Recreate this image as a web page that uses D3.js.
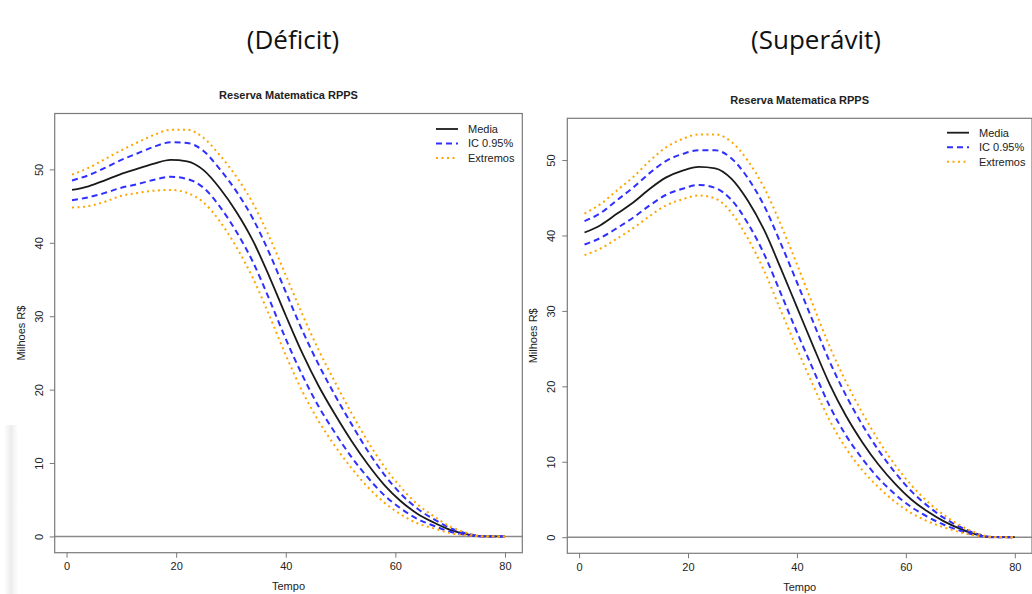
<!DOCTYPE html>
<html>
<head>
<meta charset="utf-8">
<script src="https://cdn.jsdelivr.net/npm/d3@7"></script>
<style>
body { margin: 0; background: #fff; }
svg { display: block; font-family: "Liberation Sans", Arial, sans-serif; }
</style>
</head>
<body>
<div id="chart"></div>
<script>
// time axis shared by both panels (read at these points)
const tempo = [1, 4, 7, 10, 13, 16, 19, 22, 25, 28, 31, 34, 37, 40, 43, 46, 49, 52, 55, 58, 61, 64, 67, 70, 73, 76, 80];

// Deficit panel
const deficitMedia  = [47.2, 47.7, 48.5, 49.4, 50.1, 50.8, 51.3, 51.1, 49.9, 47.4, 44.2, 40.3, 35.4, 30.1, 25.0, 20.5, 16.6, 13.0, 9.8, 7.0, 4.8, 3.1, 1.9, 0.9, 0.3, 0, 0];
const deficitIcUp   = [48.5, 49.2, 50.2, 51.3, 52.2, 53.1, 53.7, 53.6, 52.5, 50.0, 47.0, 43.3, 38.6, 33.3, 28.1, 23.4, 19.2, 15.3, 11.6, 8.4, 5.8, 3.8, 2.35, 1.15, 0.4, 0.02, 0];
const deficitIcLow  = [45.8, 46.2, 46.8, 47.5, 48.0, 48.6, 49.0, 48.7, 47.5, 44.9, 41.5, 37.4, 32.3, 26.9, 22.0, 17.7, 14.1, 10.8, 8.0, 5.6, 3.8, 2.4, 1.45, 0.65, 0.2, 0, 0];
const deficitExtUp  = [49.3, 50.2, 51.4, 52.6, 53.7, 54.7, 55.4, 55.4, 54.3, 51.9, 49.0, 45.4, 40.8, 35.6, 30.3, 25.4, 21.0, 16.8, 12.9, 9.5, 6.7, 4.4, 2.75, 1.35, 0.5, 0.03, 0];
const deficitExtLow = [44.8, 45.0, 45.6, 46.4, 46.8, 47.1, 47.2, 46.8, 45.5, 42.9, 39.4, 35.2, 30.1, 24.7, 19.8, 15.7, 12.3, 9.3, 6.7, 4.6, 3.0, 1.8, 1.1, 0.45, 0.15, 0, 0];

// Superavit panel
const superMedia  = [40.4, 41.4, 42.9, 44.4, 46.2, 47.7, 48.6, 49.1, 48.9, 47.5, 44.6, 40.7, 35.7, 30.5, 25.3, 20.3, 16.1, 12.6, 9.6, 7.1, 5.0, 3.4, 2.1, 1.1, 0.35, 0, 0];
const superIcUp   = [41.9, 43.0, 44.7, 46.4, 48.3, 49.9, 50.8, 51.3, 51.3, 50.2, 47.6, 43.9, 39.0, 33.8, 28.5, 23.3, 18.8, 14.9, 11.5, 8.6, 6.1, 4.15, 2.55, 1.35, 0.45, 0.02, 0];
const superIcLow  = [38.8, 39.7, 41.0, 42.4, 44.0, 45.4, 46.2, 46.7, 46.3, 44.7, 41.6, 37.5, 32.4, 27.2, 22.2, 17.4, 13.5, 10.4, 7.8, 5.7, 4.0, 2.7, 1.65, 0.85, 0.25, 0, 0];
const superExtUp  = [42.9, 44.2, 46.0, 47.8, 49.9, 51.7, 52.8, 53.4, 53.4, 52.4, 49.9, 46.3, 41.5, 36.2, 30.7, 25.3, 20.6, 16.5, 12.8, 9.6, 6.9, 4.7, 2.95, 1.55, 0.55, 0.03, 0];
const superExtLow = [37.4, 38.3, 39.6, 41.0, 42.6, 44.0, 44.8, 45.3, 44.9, 43.0, 39.6, 35.3, 30.1, 25.0, 20.1, 15.5, 11.8, 8.9, 6.6, 4.7, 3.2, 2.1, 1.3, 0.65, 0.2, 0, 0];

const xTicks = [0, 20, 40, 60, 80];
const yTicks = [0, 10, 20, 30, 40, 50];
const legendLabels = ["Media", "IC 0.95%", "Extremos"];

const width = 1032, height = 594;

const svg = d3.select("#chart").append("svg")
    .attr("width", width)
    .attr("height", height);

// faint shadow strip on the left edge of the original screenshot
const grad = svg.append("defs").append("linearGradient")
    .attr("id", "edge").attr("x1", "0").attr("x2", "1");
grad.append("stop").attr("offset", "0").attr("stop-color", "#ffffff");
grad.append("stop").attr("offset", "0.5").attr("stop-color", "#ececec");
grad.append("stop").attr("offset", "1").attr("stop-color", "#ffffff");
svg.append("rect").attr("x", 4).attr("y", 425).attr("width", 14).attr("height", 169)
    .attr("fill", "url(#edge)");

const styles = [
    { color: "#1a1a1a", width: 1.8, dash: null },
    { color: "#2f2fff", width: 2, dash: "6,4" },
    { color: "#ffa500", width: 2, dash: "2,3.5" }
];

const panels = [
    {
        header: "(Déficit)", headerX: 293,
        left: 54.7, right: 522.3, top: 113.5, bottom: 552.7,
        legendX: 436, legendY: 129,
        media: deficitMedia, icUp: deficitIcUp, icLow: deficitIcLow,
        extUp: deficitExtUp, extLow: deficitExtLow
    },
    {
        header: "(Superávit)", headerX: 816,
        left: 567.3, right: 1032, top: 118.3, bottom: 553.3,
        legendX: 947, legendY: 132.7,
        media: superMedia, icUp: superIcUp, icLow: superIcLow,
        extUp: superExtUp, extLow: superExtLow
    }
];

panels.forEach(p => {
    const all = [].concat(p.media, p.icUp, p.icLow, p.extUp, p.extLow);
    const yMin = d3.min(all), yMax = d3.max(all);
    const xMin = d3.min(tempo), xMax = d3.max(tempo);
    const xPad = (xMax - xMin) * 0.04, yPad = (yMax - yMin) * 0.04;

    const x = d3.scaleLinear().domain([xMin - xPad, xMax + xPad]).range([p.left, p.right]);
    const y = d3.scaleLinear().domain([yMin - yPad, yMax + yPad]).range([p.bottom, p.top]);

    // big header
    svg.append("text")
        .attr("x", p.headerX).attr("y", 49)
        .attr("text-anchor", "middle")
        .style("font-family", "'Open Sans', 'Noto Sans', sans-serif")
        .style("font-size", "26px")
        .attr("fill", "#111")
        .text(p.header);

    // plot title
    svg.append("text")
        .attr("x", (p.left + p.right) / 2).attr("y", p.top - 14.5)
        .attr("text-anchor", "middle")
        .style("font-size", "11px").style("font-weight", "bold")
        .attr("fill", "#222")
        .text("Reserva Matematica RPPS");

    // zero line
    svg.append("line")
        .attr("x1", p.left).attr("x2", p.right)
        .attr("y1", y(0)).attr("y2", y(0))
        .attr("stroke", "#8a8a8a").attr("stroke-width", 1.5);

    const line = d3.line()
        .x((d, i) => x(tempo[i]))
        .y(d => y(d))
        .curve(d3.curveMonotoneX);

    const series = [p.media, p.icUp, p.icLow, p.extUp, p.extLow];
    const seriesStyle = [styles[0], styles[1], styles[1], styles[2], styles[2]];
    series.forEach((s, k) => {
        svg.append("path")
            .datum(s)
            .attr("d", line)
            .attr("fill", "none")
            .attr("stroke", seriesStyle[k].color)
            .attr("stroke-width", seriesStyle[k].width)
            .attr("stroke-dasharray", seriesStyle[k].dash);
    });

    // box
    svg.append("rect")
        .attr("x", p.left).attr("y", p.top)
        .attr("width", p.right - p.left).attr("height", p.bottom - p.top)
        .attr("fill", "none").attr("stroke", "#7a7a7a").attr("stroke-width", 1.2);

    // axes
    const xAxis = svg.append("g")
        .attr("transform", "translate(0," + p.bottom + ")")
        .call(d3.axisBottom(x).tickValues(xTicks).tickSize(5).tickPadding(5));
    const yAxis = svg.append("g")
        .attr("transform", "translate(" + p.left + ",0)")
        .call(d3.axisLeft(y).tickValues(yTicks).tickSize(5));

    [xAxis, yAxis].forEach(a => {
        a.select(".domain").remove();
        a.selectAll("line").attr("stroke", "#7a7a7a");
        a.selectAll("text").attr("fill", "#222").style("font-size", "11px").style("font-family", "'Liberation Sans', Arial, sans-serif");
    });
    yAxis.selectAll("text")
        .attr("x", 0).attr("dy", 0)
        .attr("text-anchor", "middle")
        .attr("transform", "translate(-12,0) rotate(-90)");

    // axis titles
    svg.append("text")
        .attr("x", (p.left + p.right) / 2).attr("y", p.bottom + 37.5)
        .attr("text-anchor", "middle")
        .style("font-size", "11px").attr("fill", "#222")
        .text("Tempo");
    svg.append("text")
        .attr("transform", "translate(" + (p.left - 30) + "," + ((p.top + p.bottom) / 2) + ") rotate(-90)")
        .attr("text-anchor", "middle")
        .style("font-size", "11px").attr("fill", "#222")
        .text("Milhoes R$");

    // legend
    const lg = svg.append("g");
    legendLabels.forEach((lab, i) => {
        const st = styles[i];
        const ly = p.legendY + i * 14.5;
        lg.append("line")
            .attr("x1", p.legendX).attr("x2", p.legendX + 22)
            .attr("y1", ly).attr("y2", ly)
            .attr("stroke", st.color).attr("stroke-width", st.width)
            .attr("stroke-dasharray", st.dash);
        lg.append("text")
            .attr("x", p.legendX + 32).attr("y", ly).attr("dy", "0.35em")
            .style("font-size", "11px").attr("fill", "#222")
            .text(lab);
    });
});
</script>
</body>
</html>
